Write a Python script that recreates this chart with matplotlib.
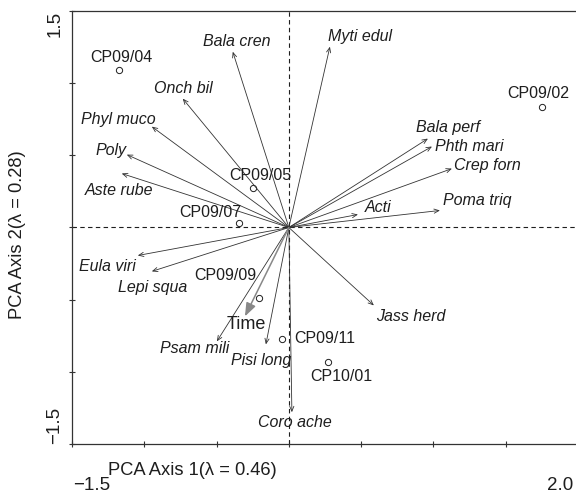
import numpy as np
import matplotlib
matplotlib.use("Agg")
import matplotlib.pyplot as plt
from matplotlib.transforms import blended_transform_factory

plt.rcParams['font.family'] = ['Liberation Sans', 'DejaVu Sans']

# site scores
sites = ['CP09/04', 'CP09/02', 'CP09/05', 'CP09/07', 'CP09/09', 'CP09/11', 'CP10/01']
site_x = [-1.176, 1.751, -0.249, -0.346, -0.208, -0.048, 0.270]
site_y = [1.093, 0.837, 0.277, 0.028, -0.491, -0.775, -0.934]

# species loadings
species = ['Bala cren', 'Myti edul', 'Onch bil', 'Phyl muco', 'Poly', 'Aste rube',
           'Bala perf', 'Phth mari', 'Crep forn', 'Poma triq', 'Acti',
           'Eula viri', 'Lepi squa', 'Psam mili', 'Pisi long', 'Coro ache', 'Jass herd']
sp_x = [-0.388, 0.284, -0.734, -0.948, -1.121, -1.156,
        0.962, 0.990, 1.128, 1.045, 0.478,
        -1.045, -0.948, -0.498, -0.159, 0.021, 0.588]
sp_y = [1.218, 1.253, 0.893, 0.699, 0.505, 0.374,
        0.616, 0.561, 0.408, 0.118, 0.090,
        -0.194, -0.304, -0.789, -0.810, -1.280, -0.540]

# environmental vector
env_name = 'Time'
env_x = -0.304
env_y = -0.616

xlim = (-1.5, 2.0)
ylim = (-1.5, 1.5)

# label offsets in pixels
site_off = [(3, 12), (-4, 13), (7, 12), (-29, 11), (-33, 23), (43, 1), (13, -14)]
sp_off = [(4, 10), (30, 10), (1, 10), (-33, 7), (-16, 4), (-3, -17),
          (20, 11), (37, 0), (35, 3), (37, 10), (20, 7),
          (-30, -11), (1, -16), (-22, -7), (-5, -16), (3, -10), (37, -11)]

fig = plt.figure(figsize=(5.76, 4.98), dpi=100)
ax = fig.add_axes([72 / 576, 54 / 498, 506 / 576, 433 / 498])
ax.set_xlim(xlim)
ax.set_ylim(ylim)

ink = '#1e1e1e'
ax.axhline(0, color=ink, lw=0.8, ls=(0, (4, 3)))
ax.axvline(0, color=ink, lw=0.8, ls=(0, (4, 3)))

for name, x, y, off in zip(species, sp_x, sp_y, sp_off):
    ax.annotate('', xy=(x, y), xytext=(0, 0),
                arrowprops=dict(arrowstyle='->,head_length=0.35,head_width=0.15',
                                color='#333333', lw=0.6, shrinkA=0, shrinkB=0))
    ax.annotate(name, xy=(x, y), xytext=off, textcoords='offset pixels',
                ha='center', va='center', fontsize=11.5, style='italic', color=ink)

ax.annotate('', xy=(env_x, env_y), xytext=(0, 0),
            arrowprops=dict(arrowstyle='-|>,head_length=0.8,head_width=0.3',
                            color='#888888', lw=1.1, shrinkA=0, shrinkB=0))
ax.annotate(env_name, xy=(env_x, env_y), xytext=(1, -8), textcoords='offset pixels',
            ha='center', va='center', fontsize=13, color=ink)

ax.plot(site_x, site_y, 'o', mfc='white', mec=ink, mew=0.7, ms=4.5, ls='none')
for name, x, y, off in zip(sites, site_x, site_y, site_off):
    ax.annotate(name, xy=(x, y), xytext=off, textcoords='offset pixels',
                ha='center', va='center', fontsize=11.5, color=ink)

ax.spines['right'].set_visible(False)
for s in ['left', 'bottom', 'top']:
    ax.spines[s].set_color('#333333')
    ax.spines[s].set_linewidth(0.9)

ax.set_xticks(np.arange(-1.5, 2.01, 0.5))
ax.set_yticks(np.arange(-1.5, 1.51, 0.5))
ax.set_xticklabels([])
ax.set_yticklabels([])
ax.tick_params(direction='inout', length=5, width=0.8, color='#333333')

# only the limits are labelled, as text outside the axes
fig.text(73 / 576, 1 - 485 / 498, '\u22121.5', ha='left', va='center',
         fontsize=13.5, color=ink)
fig.text(573 / 576, 1 - 485 / 498, '2.0', ha='right', va='center',
         fontsize=13.5, color=ink)
ty = blended_transform_factory(fig.transFigure, ax.transData)
ax.text(55 / 576, ylim[1], '1.5', transform=ty, ha='center', va='top', rotation=90,
        fontsize=13.5, color=ink)
ax.text(55 / 576, ylim[0], '\u22121.5', transform=ty, ha='center', va='bottom', rotation=90,
        fontsize=13.5, color=ink)

fig.text(192 / 576, 1 - 470 / 498, 'PCA Axis 1(\u03bb = 0.46)', ha='center', va='center',
         fontsize=13.2, color=ink)
fig.text(18 / 576, 1 - 235 / 498, 'PCA Axis 2(\u03bb = 0.28)', ha='center', va='center',
         rotation=90, fontsize=13.2, color=ink)

fig.savefig('out.png', dpi=100)
